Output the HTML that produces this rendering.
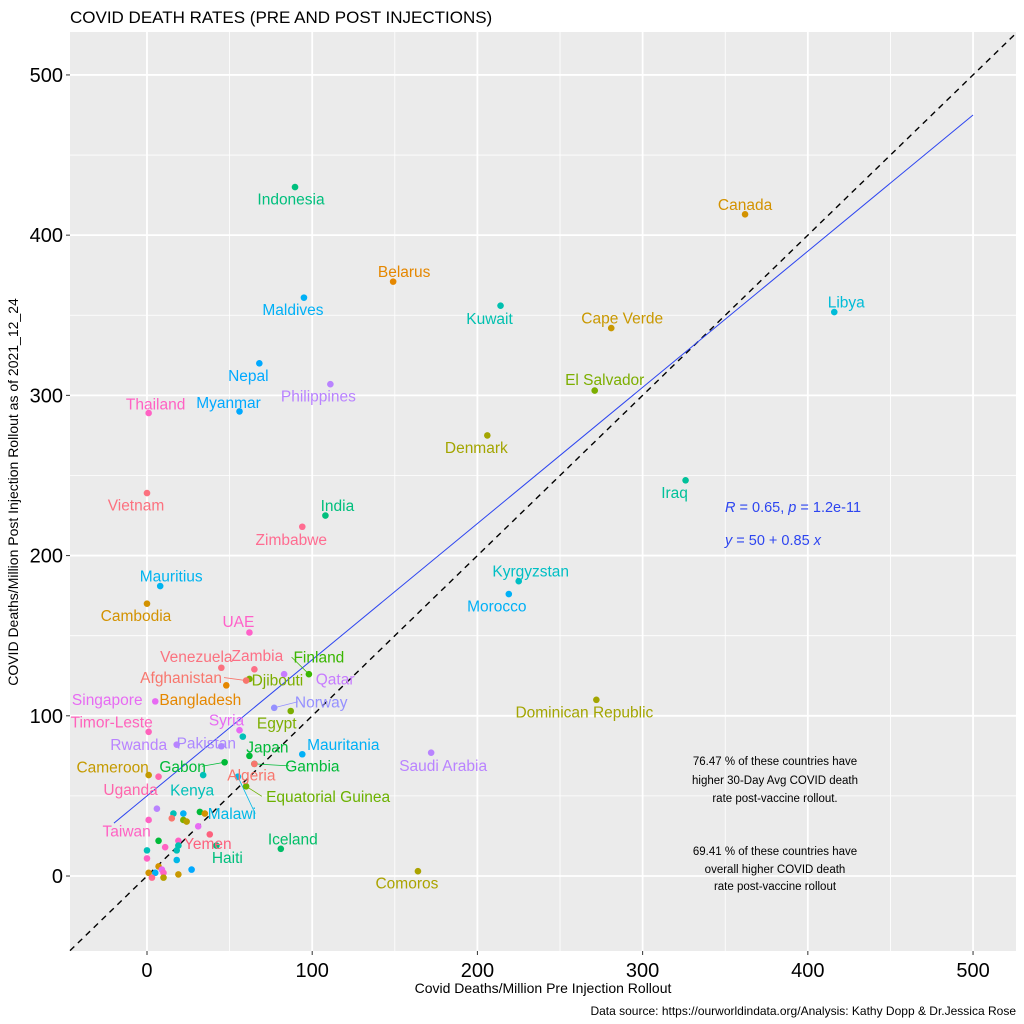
<!DOCTYPE html>
<html><head><meta charset="utf-8"><style>
html,body{margin:0;padding:0;background:#fff;}
svg{display:block;font-family:"Liberation Sans",sans-serif;}
</style></head><body>
<svg id="chart" width="1024" height="1024" viewBox="0 0 1024 1024">
<text x="70" y="23" font-size="17" fill="#000">COVID DEATH RATES (PRE AND POST INJECTIONS)</text>
<rect x="70" y="32" width="946" height="919" fill="#ebebeb"/>
<g id="grid"></g>
<g id="lines"></g>
<g id="leaders"></g>
<g id="points"></g>
<g id="labels"></g>
<g id="axes"></g>
<text x="725" y="512" font-size="14.5" fill="#2d45f0"><tspan font-style="italic">R</tspan> = 0.65, <tspan font-style="italic">p</tspan> = 1.2e-11</text>
<text x="725" y="545" font-size="14.5" fill="#2d45f0"><tspan font-style="italic">y</tspan> = 50 + 0.85 <tspan font-style="italic">x</tspan></text>
<g font-size="11.5" fill="#000" text-anchor="middle">
<text x="775" y="765">76.47 % of these countries have</text>
<text x="775" y="784">higher 30-Day Avg COVID death</text>
<text x="775" y="802">rate post-vaccine rollout.</text>
</g>
<g font-size="11.5" fill="#000" text-anchor="middle">
<text x="775" y="855">69.41 % of these countries have</text>
<text x="775" y="873">overall higher COVID death</text>
<text x="775" y="890">rate post-vaccine rollout</text>
</g>
<text x="543" y="993" font-size="14" text-anchor="middle" fill="#000">Covid Deaths/Million Pre Injection Rollout</text>
<text transform="translate(18,492) rotate(-90)" font-size="14" text-anchor="middle" fill="#000">COVID Deaths/Million Post Injection Rollout as of 2021_12_24</text>
<text x="1016" y="1015" font-size="12" text-anchor="end" fill="#000">Data source: https://ourworldindata.org/Analysis: Kathy Dopp &amp; Dr.Jessica Rose</text>
</svg>
<script>
const countries=["Indonesia","Canada","Belarus","Maldives","Kuwait","Libya","Cape Verde","Nepal","Philippines","El Salvador","Thailand","Myanmar","Denmark","Iraq","Vietnam","India","Zimbabwe","Kyrgyzstan","Mauritius","Morocco","Cambodia","UAE","Venezuela","Zambia","Finland","Djibouti","Qatar","Afghanistan","Bangladesh","Singapore","Norway","Egypt","Dominican Republic","Timor-Leste","Syria","Rwanda","Pakistan","Mauritania","Japan","Saudi Arabia","Gabon","Gambia","Algeria","Cameroon","Uganda","Kenya","Malawi","Equatorial Guinea","Taiwan","Yemen","Haiti","Iceland","Comoros","","","","","","","","","","","","","","","","","","","","","","","","",""];
const preRates=[89.6,362,149,95,214,416,281,68,111,271,1,56,206,326,0,108,94,225,8,219,0,62,45,65,98,62,83,60,48,5,77,87,272,1,56,18,45,94,62,172,47,65,65,1,7,34,55,60,1,38,42,81,164,58,6,16,22,32,35,15,22,24,31,7,11,19,19,18,0,0,18,27,7,1,5,9,10,10,3,19];
const postRates=[430,413,371,361,356,352,342,320,307,303,289,290,275,247,239,225,218,184,181,176,170,152,130,129,126,123,126,122,119,109,105,103,110,90,91,82,81,76,75,77,71,70,70,63,62,63,62,56,35,26,19,17,3,87,42,39,39,40,39,36,35,34,31,22,18,22,19,16,16,11,10,4,6,2,2,4,2,-1,-1,1];
const pointColors=["#00BF7D","#D39200","#E58700","#00B0F6","#00C0AF","#00BCD8","#C99800","#00A9FF","#B983FF","#7CAE00","#FF61C3","#00A9FF","#A3A500","#00C19A","#FC717F","#00BF7D","#FF6C91","#00BFC4","#00B4F0","#00B0F6","#D39200","#FF61C9","#FB727F","#FD6F86","#39B600","#7CAE00","#C77CFF","#F8766D","#E58700","#E76BF3","#9590FF","#7CAE00","#A3A500","#FF62BC","#E76BF3","#B983FF","#AC88FF","#00B0F6","#00BA38","#B983FF","#00BA38","#00BA38","#F8766D","#C49A00","#FF65AC","#00C0B8","#00B8E7","#6BB100","#FF61C3","#FD617D","#00BF7D","#00BE67","#ABA300","#00C0B8","#B983FF","#00C0B8","#00B0F6","#00BA38","#D39200","#F8766D","#7CAE00","#B79F00","#E76BF3","#00BA38","#FF61C3","#FF61C3","#00C0AF","#00C0B8","#00C0B8","#FF61C3","#00B8E7","#00A9FF","#D39200","#D39200","#00B0F6","#E76BF3","#FF61C3","#B79F00","#FF6C91","#C99800"];
const labelDx=[-4,0,11,-11,-11,12,11,-11,-12,10,7,-11,-11,-11,-11,12,-11,12,11,-12,-11,-11,-25,3,10,28,51,-65,-26,-48,47,-14,-12,-37,-13,-38,-15,41,18,12,-42,58,-3,-36,-28,-11,-6,82,-22,-2,11,12,-11];
const labelDy=[12,-10,-10,12,13,-10,-10,12,12,-11,-9,-9,12,12,12,-10,13,-10,-10,12,12,-11,-11,-14,-17,1,5,-3,14,-2,-6,12,12,-10,-10,0,-3,-10,-9,13,4,2,11,-8,13,15,37,10,11,9,12,-10,12];
const leaderIdx=[24,27,30,40,41,46,47];
const xTicks=[0,100,200,300,400,500];
const yTicks=[0,100,200,300,400,500];
const xMinor=[-50,50,150,250,350,450];
const yMinor=[-50,50,150,250,350,450];
const regIntercept=50, regSlope=0.85, regFrom=-20, regTo=500;

const NS="http://www.w3.org/2000/svg";
const L=70,R=1016,T=32,B=951;
const xMin=-46.6,xMax=526,yMin=-46.8,yMax=526.8;
const sx=v=>L+(v-xMin)/(xMax-xMin)*(R-L);
const sy=v=>B-(v-yMin)/(yMax-yMin)*(B-T);
function mk(tag,attrs,parent){const e=document.createElementNS(NS,tag);for(const k in attrs)e.setAttribute(k,attrs[k]);parent.appendChild(e);return e;}
const grid=document.getElementById('grid');
xMinor.forEach(v=>{const e=mk('line',{x1:sx(v),x2:sx(v),y1:T,y2:B,stroke:'#fff','stroke-width':0.8},grid);

});
yMinor.forEach(v=>{const e=mk('line',{x1:L,x2:R,y1:sy(v),y2:sy(v),stroke:'#fff','stroke-width':0.8},grid);

});
const axes=document.getElementById('axes');
xTicks.forEach(v=>{const e=mk('line',{x1:sx(v),x2:sx(v),y1:T,y2:B,stroke:'#fff','stroke-width':1.8},grid);


const tk=mk('line',{x1:sx(v),x2:sx(v),y1:B,y2:B+4,stroke:'#333','stroke-width':1},axes);


const t=mk('text',{x:sx(v),y:B+26,'font-size':20,'text-anchor':'middle',fill:'#000'},axes);t.textContent=v;

});
yTicks.forEach(v=>{const e=mk('line',{x1:L,x2:R,y1:sy(v),y2:sy(v),stroke:'#fff','stroke-width':1.8},grid);


const tk=mk('line',{x1:L-4,x2:L,y1:sy(v),y2:sy(v),stroke:'#333','stroke-width':1},axes);


const t=mk('text',{x:L-7,y:sy(v)+7,'font-size':20,'text-anchor':'end',fill:'#000'},axes);t.textContent=v;

});
const lines=document.getElementById('lines');
const idl=mk('line',{x1:sx(xMin),y1:sy(xMin),x2:sx(xMax),y2:sy(xMax),stroke:'#000','stroke-width':1.4,'stroke-dasharray':'6,5'},lines);


const reg=mk('line',{x1:sx(regFrom),y1:sy(regIntercept+regSlope*regFrom),x2:sx(regTo),y2:sy(regIntercept+regSlope*regTo),stroke:'#2d45f0','stroke-width':1},lines);


const pts=document.getElementById('points'),lbs=document.getElementById('labels'),lds=document.getElementById('leaders');
preRates.forEach((v,i)=>{const cx=sx(v),cy=sy(postRates[i]);
const c=mk('circle',{cx:cx,cy:cy,r:3.3,fill:pointColors[i]},pts);


if(countries[i]){const lx=cx+labelDx[i],ly=cy+labelDy[i];
if(leaderIdx.includes(i)){const ln=mk('line',{x1:cx,y1:cy,x2:lx+(labelDx[i]>0?-countries[i].length*3.9:countries[i].length*3.9),y2:ly,stroke:pointColors[i],'stroke-width':0.8},lds);

}
const t=mk('text',{x:lx,y:ly+5.5,'font-size':15.5,'text-anchor':'middle',fill:pointColors[i]},lbs);t.textContent=countries[i];

}});
</script>
</body></html>
